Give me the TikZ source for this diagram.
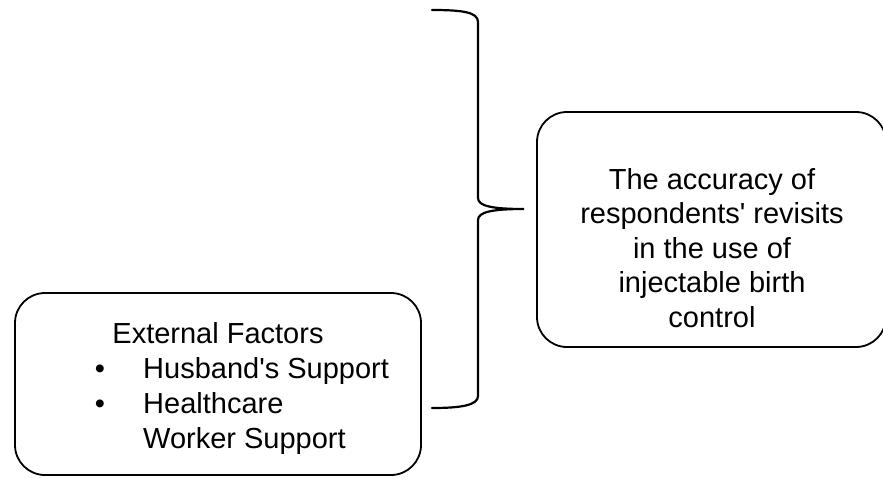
\documentclass[tikz,border=0pt]{standalone}
\usepackage{fontspec}
\setmainfont{Liberation Sans}
\usepackage{tikz}
\usetikzlibrary{positioning}

\begin{document}
\begin{tikzpicture}[
  x=1pt, y=-1pt,
  every node/.style={font=\fontsize{29}{34.5}\selectfont, inner sep=0pt},
  roundbox/.style={draw, line width=1.8pt, rounded corners=30pt},
  bracket/.style={line width=2.2pt, line cap=round}
]
\useasboundingbox (0,0) rectangle (883,477);

% 右の箱
\draw[roundbox] (537,112) rectangle (886,347);
\node[align=center] (result) at (712,248)
  {The accuracy of\\respondents\textquotesingle{} revisits\\in the use of\\injectable birth\\control};

% 左の箱
\draw[roundbox] (15,293) rectangle (421,475);
\node[anchor=base] (ext) at (218,343) {External Factors};
\node[anchor=base] (b1) at (100,378) {\textbullet};
\node[anchor=base west] (husband) at (143,378) {Husband\textquotesingle{}s Support};
\node[anchor=base] (b2) at (100,413) {\textbullet};
\node[anchor=base west] (health) at (143,413) {Healthcare};
\node[anchor=base west] (worker) at (143,448) {Worker Support};

% 括弧
\coordinate (tip) at (524,209);
\draw[bracket] (432,10)
  .. controls (462,10) and (478,12) .. (478,22)
  -- (478,198)
  .. controls (478,206) and (492,209) .. (tip)
  .. controls (492,209) and (478,212) .. (478,220)
  -- (478,396)
  .. controls (478,405) and (462,408) .. (432,408);
\end{tikzpicture}
\end{document}
